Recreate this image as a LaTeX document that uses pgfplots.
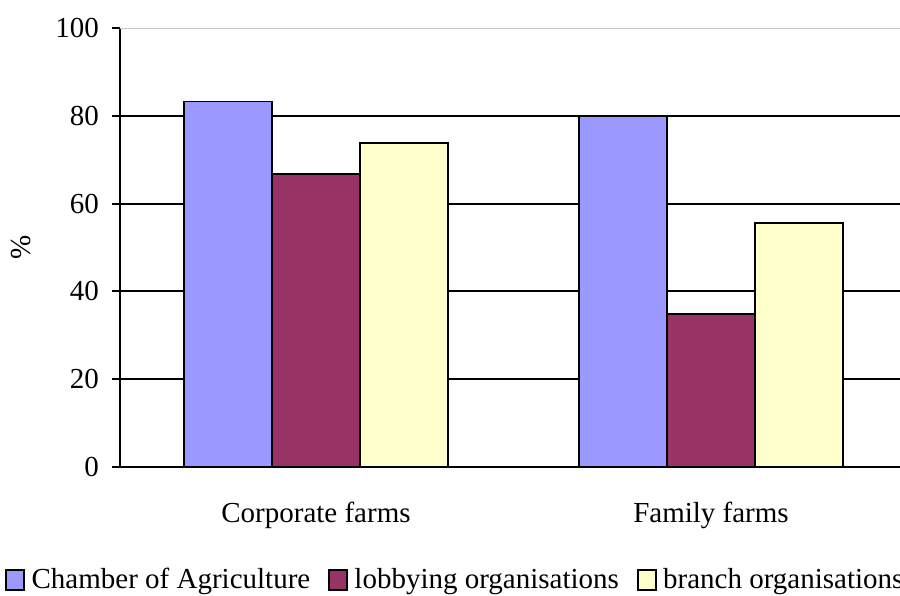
\documentclass[border=0pt]{standalone}
\usepackage{pgfplots}
\pgfplotsset{compat=1.18}
\usepackage{fontspec}
\setmainfont{Liberation Serif}
\definecolor{cA}{HTML}{9999FF}
\definecolor{cB}{HTML}{993366}
\definecolor{cC}{HTML}{FFFFCC}
\pgfplotsset{mylegend/.style={legend image code/.code={\draw[##1, line width=0.9pt, draw=black] (0pt,-5pt) rectangle (9pt,5pt);}}}
\begin{document}
\begin{tikzpicture}
\begin{axis}[
  scale only axis, width=390pt, height=219.5pt,
  xmin=-0.4962, xmax=1.4785, ymin=0, ymax=100,
  ybar=0pt, bar width=44pt,
  axis lines*=left,
  axis line style={line width=1pt, black},
  xtick={0,1}, xticklabels={Corporate farms, Family farms},
  x tick style={draw=none},
  ytick={0,20,40,60,80},
  extra y ticks={100},
  extra y tick style={major grid style={gray!45, line width=0.5pt}},
  ymajorgrids,
  major grid style={black, line width=1pt},
  y tick style={black, line width=1pt},
  tick align=outside, major tick length=4pt,
  /pgf/number format/assume math mode=true,
  tick label style={font=\fontsize{14.5}{17}\selectfont},
  yticklabel style={xshift=-3pt},
  xticklabel style={anchor=base, yshift=-23.5pt},
  ylabel={\%},
  ylabel style={at={(axis description cs:-0.1269,0.5)}, anchor=center, font=\fontsize{14.5}{17}\selectfont},
  legend columns=3,
  legend style={at={(axis description cs:-0.1474,-0.2575)}, anchor=west, draw=none, inner sep=0pt,
    font=\fontsize{14.5}{17}\selectfont,
    /tikz/every odd column/.append style={column sep=1.2pt},
    /tikz/every even column/.append style={column sep=7pt}},
]
\addplot[fill=cA, draw=black, line width=0.75pt, mylegend] coordinates {(0,83.3) (1,80.0)};
\addplot[fill=cB, draw=black, line width=0.75pt, mylegend] coordinates {(0,66.7) (1,34.9)};
\addplot[fill=cC, draw=black, line width=0.75pt, mylegend] coordinates {(0,73.8) (1,55.6)};
\legend{Chamber of Agriculture, lobbying organisations, branch organisations}
\end{axis}
\pgfresetboundingbox
\path[use as bounding box] (-60pt,-64pt) rectangle (390pt,233.5pt);
\end{tikzpicture}
\end{document}
